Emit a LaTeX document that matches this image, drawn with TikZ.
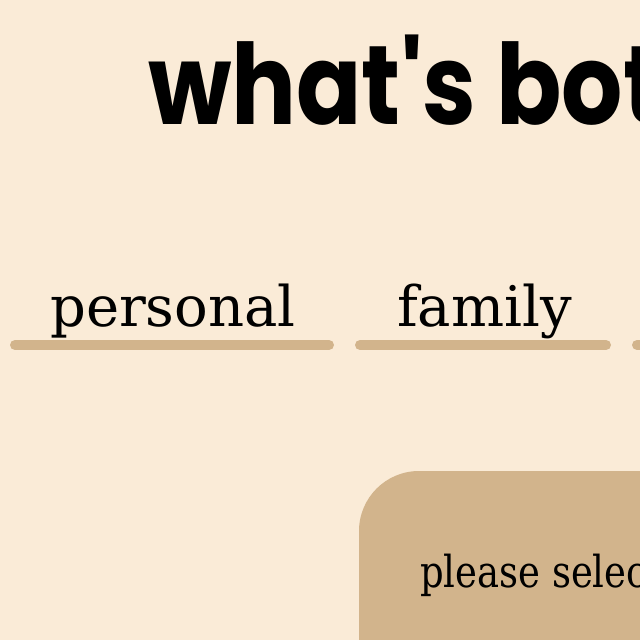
\documentclass[tikz,border=0pt]{standalone}
\usepackage{fontspec}
\setmainfont{DejaVu Serif}
\newfontfamily\titlefont{Poppins}
\definecolor{bgcol}{HTML}{FAEBD7}
\definecolor{tan}{HTML}{D2B48C}
\begin{document}
\begin{tikzpicture}[x=1pt,y=-1pt,
  tabtext/.style={anchor=base west,inner sep=0pt,font=\fontsize{56}{60}\selectfont},
  tabline/.style={draw=tan,line width=10pt,line cap=round}]
\useasboundingbox (0,0) rectangle (640,640);
\clip (0,0) rectangle (640,640);
\fill[bgcol] (0,0) rectangle (640,640);
\node[anchor=base west,inner sep=0pt,font=\titlefont\bfseries\fontsize{112}{120}\selectfont] (title) at (148,124) {\scalebox{0.86}[1]{what's both}};
\node[tabtext] (personal) at (50,326) {personal};
\node[tabtext] (family) at (397,326) {family};
\draw[tabline] (15,345) -- (329,345);
\draw[tabline] (360,345) -- (606,345);
\draw[tabline] (637,345) -- (700,345);
\fill[tan,rounded corners=60pt] (359,471) rectangle (800,800);
\node[anchor=base west,inner sep=0pt,font=\fontsize{44}{48}\selectfont] (please) at (420,587) {\scalebox{0.84}[1]{please select}};
\end{tikzpicture}
\end{document}
